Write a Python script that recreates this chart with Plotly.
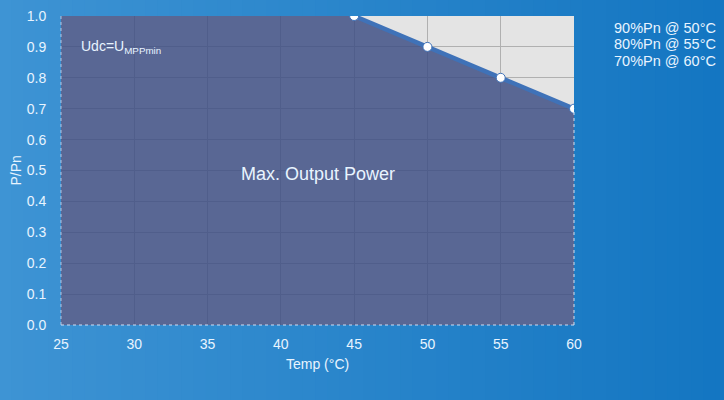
import plotly.graph_objects as go

temps = [25, 45, 50, 55, 60]
power = [1.0, 1.0, 0.9, 0.8, 0.7]
derate_temps = [45, 50, 55, 60]
derate_power = [1.0, 0.9, 0.8, 0.7]
notes = ["90%Pn @ 50°C", "80%Pn @ 55°C", "70%Pn @ 60°C"]

fig = go.Figure()
fig.add_trace(go.Scatter(x=temps, y=power, mode="lines", line=dict(width=0),
                         fill="tozeroy", fillcolor="rgba(62,79,132,0.84)",
                         hoverinfo="skip", showlegend=False))
fig.add_trace(go.Scatter(x=derate_temps, y=derate_power, mode="lines+markers",
                         line=dict(color="#3f72b8", width=4.5),
                         marker=dict(size=9, color="white", line=dict(color="#3f72b8", width=1)),
                         showlegend=False))

# gradient background strips
n = 60
c0 = (62, 148, 212)
c1 = (20, 118, 194)
shapes = []
for i in range(n):
    t = i / (n - 1)
    col = tuple(int(c0[k] + (c1[k] - c0[k]) * t) for k in range(3))
    x0 = -0.12 + i * (1.42 / n)
    shapes.append(dict(type="rect", xref="paper", yref="paper", layer="below",
                       x0=x0, x1=x0 + 1.42 / n + 0.002, y0=-0.3, y1=1.1,
                       line=dict(width=0), fillcolor="rgb(%d,%d,%d)" % col))
# plot background
shapes.append(dict(type="rect", xref="paper", yref="paper", layer="below",
                   x0=0, x1=1, y0=0, y1=1, line=dict(width=0), fillcolor="#e4e4e4"))
# dashed edges
shapes.append(dict(type="line", xref="paper", yref="paper", x0=1, x1=1, y0=0, y1=0.7,
                   line=dict(color="rgba(255,255,255,0.8)", width=1, dash="dot")))
shapes.append(dict(type="line", xref="paper", yref="paper", x0=0, x1=1, y0=0, y1=0,
                   line=dict(color="rgba(220,235,255,0.9)", width=1, dash="dot")))
shapes.append(dict(type="line", xref="paper", yref="paper", x0=0, x1=0, y0=0, y1=1,
                   line=dict(color="rgba(220,235,255,0.7)", width=1, dash="dot")))

font_col = "#e8f4ff"
annotations = [
    dict(x=26.2, y=0.9, xref="x", yref="y", text="Udc=U<sub>MPPmin</sub>",
         showarrow=False, xanchor="left", font=dict(size=14, color=font_col)),
    dict(x=42.5, y=0.49, xref="x", yref="y", text="Max. Output Power",
         showarrow=False, font=dict(size=18, color=font_col)),
    dict(x=0.5, y=-39 / 309, xref="paper", yref="paper", text="Temp (°C)",
         showarrow=False, xanchor="center", yanchor="middle", font=dict(size=14, color=font_col)),
    dict(x=-46 / 513, y=0.5, xref="paper", yref="paper", text="P/Pn", textangle=-90,
         showarrow=False, xanchor="center", yanchor="middle", font=dict(size=14, color=font_col)),
]
for i, note in enumerate(notes):
    annotations.append(dict(x=1.281, y=1 + (16 - 28 - 16.5 * i) / 309,
                            xref="paper", yref="paper", text=note, showarrow=False,
                            xanchor="right", yanchor="middle",
                            font=dict(size=14.5, color=font_col)))

fig.update_layout(
    width=724, height=400,
    margin=dict(l=61, r=150, t=16, b=75, autoexpand=False),
    paper_bgcolor="#2a86cc", plot_bgcolor="rgba(0,0,0,0)",
    font=dict(family="Liberation Sans, Arial", color=font_col, size=14),
    shapes=shapes,
    xaxis=dict(range=[25, 60], dtick=5, showgrid=True, gridcolor="#b0b0b0", gridwidth=1,
               zeroline=False, showline=False, ticks="outside", ticklen=6,
               tickcolor="rgba(0,0,0,0)", automargin=False,
               tickfont=dict(size=14)),
    yaxis=dict(range=[0, 1.0], dtick=0.1, tickformat=".1f", showgrid=True, gridcolor="#b0b0b0",
               gridwidth=1, zeroline=False, showline=False, ticks="outside", ticklen=11,
               tickcolor="rgba(0,0,0,0)", automargin=False,
               tickfont=dict(size=14)),
    annotations=annotations,
)
fig.write_html("out.html", config={"displayModeBar": False})

with open("out.html", encoding="utf-8") as f:
    html = f.read()
html = html.replace("<head>", "<head><style>html,body{margin:0;padding:0;overflow:hidden;}</style>", 1)
with open("out.html", "w", encoding="utf-8") as f:
    f.write(html)
